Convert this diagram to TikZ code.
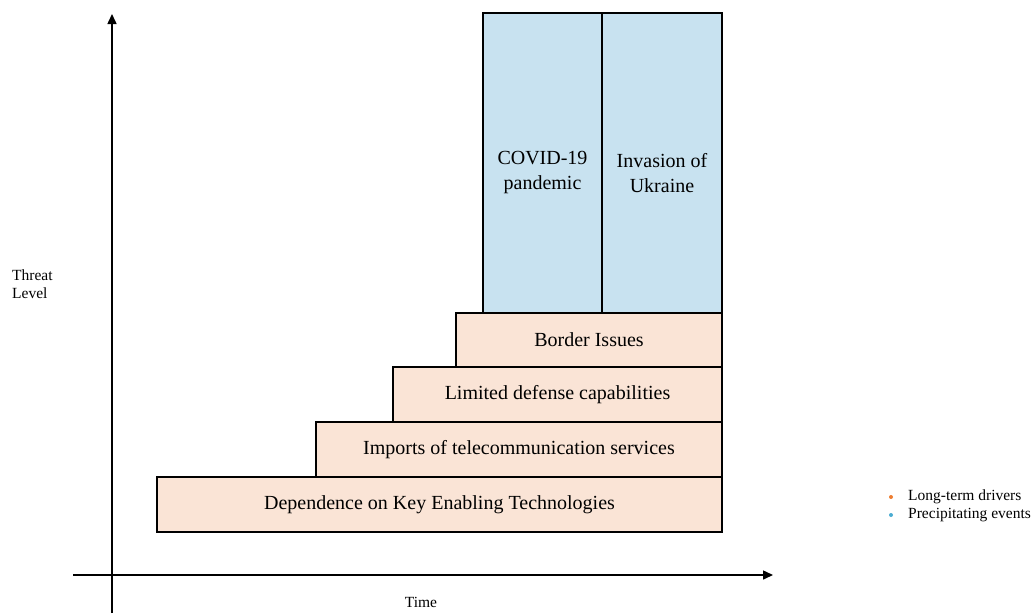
\documentclass[tikz,border=0pt]{standalone}
\usepackage{fontspec}
\setmainfont{Liberation Serif}
\usetikzlibrary{arrows.meta}
\definecolor{drv}{RGB}{250,228,214}
\definecolor{evt}{RGB}{200,226,240}
\definecolor{drvdot}{RGB}{237,125,49}
\definecolor{evtdot}{RGB}{75,172,210}
\tikzset{
  blk/.style={draw=black, line width=1.6pt, inner sep=0pt, font=\fontsize{20}{24.5}\selectfont},
  driver/.style={blk, fill=drv},
  event/.style={blk, fill=evt},
  evlabel/.style={align=center, inner sep=0pt, font=\fontsize{20}{25}\selectfont, yshift=-10pt},
  axis/.style={line width=1.5pt, -{Triangle[length=10pt,width=9pt]}},
  small/.style={font=\fontsize{15.5}{17.5}\selectfont},
}
\begin{document}
\begin{tikzpicture}[x=1pt,y=-1pt]
\useasboundingbox (0,0) rectangle (1035,613);
% axes
\coordinate (ybot) at (112,613);
\coordinate (ytop) at (112,14);
\coordinate (xl) at (73,575);
\coordinate (xr) at (773,575);
\draw[axis] (ybot) -- (ytop);
\draw[axis] (xl) -- (xr);
% drivers
\node[driver, minimum width=565pt, minimum height=55pt] (dep) at (439.5,504.5) {Dependence on Key Enabling Technologies};
\node[driver, minimum width=406pt, minimum height=55pt] (imp) at (519,449.5) {Imports of telecommunication services};
\node[driver, minimum width=329pt, minimum height=55pt] (lim) at (557.5,394.5) {Limited defense capabilities};
\node[driver, minimum width=266pt, minimum height=54pt] (bor) at (589,340) {Border Issues};
% events
\node[event, minimum width=119pt, minimum height=300pt] (cov) at (542.5,163) {};
\node[event, minimum width=120pt, minimum height=300pt] (inv) at (662,163) {};
\node[evlabel] (covt) at (cov) {COVID-19\\pandemic};
\node[evlabel] (invt) at (inv) {Invasion of\\Ukraine};
% labels
\node[small, anchor=north west, align=left, inner sep=0pt] (thr) at (12,270) {Threat\\Level};
\node[small, inner sep=0pt] (time) at (421,602) {Time};
% legend
\fill[drvdot] (891,497) circle (2pt);
\fill[evtdot] (891,515) circle (2pt);
\node[small, anchor=west, inner sep=0pt] (l1) at (908,497) {Long-term drivers};
\node[small, anchor=west, inner sep=0pt] (l2) at (908,515) {Precipitating events};
\end{tikzpicture}
\end{document}
